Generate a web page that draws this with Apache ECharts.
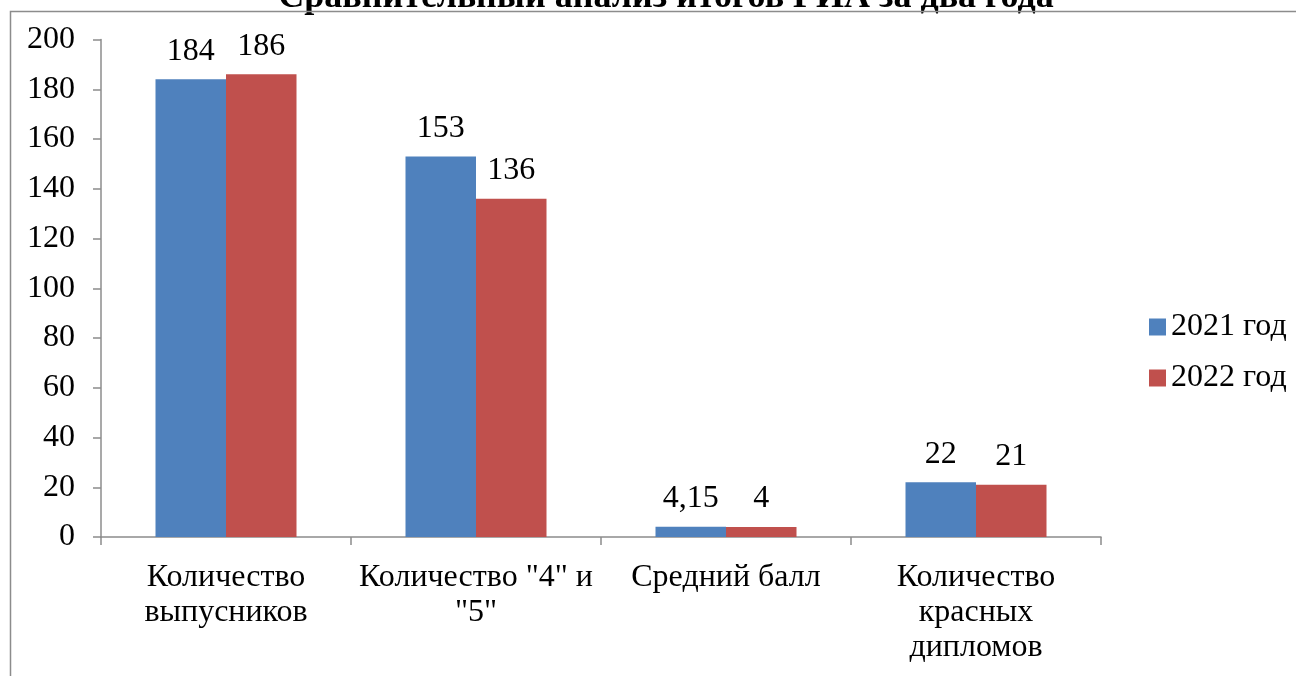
<!DOCTYPE html>
<html>
<head>
<meta charset="utf-8">
<script src="https://cdn.jsdelivr.net/npm/echarts@6/dist/echarts.min.js"></script>
<style>
  html, body { margin: 0; padding: 0; background: #fff; }
  #chart { width: 1296px; height: 676px; }
</style>
</head>
<body>
<div id="chart"></div>
<script>
  // данные диаграммы
  const categories = ['Количество\nвыпусников', 'Количество "4" и\n"5"', 'Средний балл', 'Количество\nкрасных\nдипломов']
  const values2021 = [184, 153, 4.15, 22]
  const values2022 = [186, 136, 4, 21]
  const seriesNames = ['2021 год', '2022 год']
  const yTicks = { min: 0, max: 200, interval: 20 }

  const font = 'Liberation Serif'
  const gray = '#8c8c8c'

  let myChart = echarts.init(document.getElementById('chart'))

  const label = {
    show: true,
    position: 'top',
    distance: 12,
    color: '#000',
    fontFamily: font,
    fontSize: 32,
    formatter: (p) => String(p.value).replace('.', ',')
  }

  myChart.setOption({
    animation: false,
    title: {
      text: 'Сравнительный анализ итогов ГИА за два года',
      left: 661,
      textAlign: 'center',
      top: -25,
      textStyle: { fontFamily: font, fontSize: 36, fontWeight: 'bold', color: '#000' }
    },
    graphic: [
      {
        type: 'polyline',
        shape: { points: [[10.5, 676], [10.5, 11.5], [1296, 11.5]] },
        style: { stroke: gray, lineWidth: 1.5, fill: null },
        z: 10
      }
    ],
    grid: {
      left: 101,
      right: 195,
      top: 39.5,
      bottom: 139
    },
    legend: {
      orient: 'vertical',
      left: 1144,
      top: 305,
      itemWidth: 17,
      itemHeight: 17,
      itemGap: 17,
      icon: 'rect',
      textStyle: { fontFamily: font, fontSize: 32, color: '#000', lineHeight: 34 },
      data: seriesNames
    },
    xAxis: {
      type: 'category',
      data: categories,
      axisLine: { lineStyle: { color: gray, width: 1.5 } },
      axisTick: { show: true, length: 8, lineStyle: { color: gray, width: 1.5 } },
      axisLabel: {
        margin: 23,
        color: '#000',
        fontFamily: font,
        fontSize: 32,
        lineHeight: 35,
        interval: 0
      }
    },
    yAxis: {
      type: 'value',
      min: yTicks.min,
      max: yTicks.max,
      interval: yTicks.interval,
      splitLine: { show: false },
      axisLine: { show: true, lineStyle: { color: gray, width: 1.5 } },
      axisTick: { show: true, length: 8, lineStyle: { color: gray, width: 1.5 } },
      axisLabel: {
        margin: 26,
        color: '#000',
        fontFamily: font,
        fontSize: 32
      }
    },
    series: [
      {
        name: seriesNames[0],
        type: 'bar',
        data: values2021,
        barGap: '0%',
        barCategoryGap: '43.6%',
        itemStyle: { color: '#4f81bd' },
        label: label
      },
      {
        name: seriesNames[1],
        type: 'bar',
        data: values2022,
        barGap: '0%',
        barCategoryGap: '43.6%',
        itemStyle: { color: '#c0504d' },
        label: label
      }
    ]
  })
</script>
</body>
</html>
